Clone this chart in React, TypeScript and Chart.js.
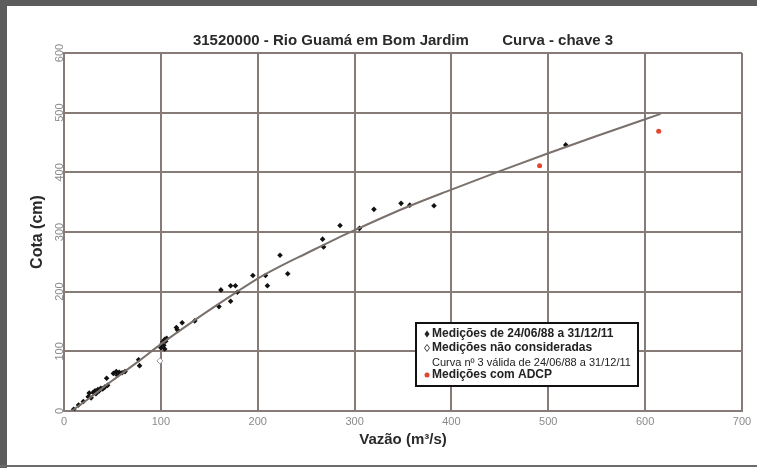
import React, { useEffect, useRef } from "react";
import { Chart, registerables } from "chart.js";

Chart.register(...registerables);

const chartTitle = "31520000 - Rio Guamá em Bom Jardim        Curva - chave 3";
const xAxisTitle = "Vazão (m³/s)";
const yAxisTitle = "Cota (cm)";
const xTickValues = [0, 100, 200, 300, 400, 500, 600, 700];
const yTickValues = [0, 100, 200, 300, 400, 500, 600];

const legendTexts = [
  "Medições de 24/06/88 a 31/12/11",
  "Medições não consideradas",
  "Curva nº 3 válida de 24/06/88 a 31/12/11",
  "Medições com ADCP",
];

// Medições de 24/06/88 a 31/12/11 (vazão, cota)
const medicoesQ = [10, 15, 20, 25, 26, 28, 30, 32, 33, 35, 36, 38, 40, 42, 44, 45, 51, 54, 55, 57, 60, 63, 77, 78,
  100, 101, 102, 103, 104, 105, 106, 104, 116, 117, 122, 135, 160, 162, 172, 177, 172, 179, 195, 208, 210, 223, 231,
  267, 268, 285, 305, 320, 348, 357, 382, 518];
const medicoesH = [3, 10, 16, 24, 30, 22, 31, 34, 29, 36, 33, 38, 37, 40, 55, 43, 63, 66, 60, 65, 64, 66, 86, 76,
  106, 112, 116, 110, 120, 117, 122, 104, 140, 136, 148, 151, 175, 203, 210, 210, 184, 199, 227, 227, 210, 261, 230,
  288, 275, 311, 306, 338, 348, 345, 344, 446];

// Medições não consideradas
const naoConsQ = [99];
const naoConsH = [84];

// Medições com ADCP
const adcpQ = [491, 614];
const adcpH = [411, 469];

// Curva nº 3
const curvaQ = [8, 25, 50, 75, 100, 125, 150, 175, 200, 225, 250, 275, 300, 350, 400, 450, 500, 550, 616];
const curvaH = [0, 20, 51, 81, 112, 141, 169, 196, 222, 244, 264, 284, 303, 339, 371, 402, 432, 461, 498];

const toXY = (xs: number[], ys: number[]) => xs.map((x, i) => ({ x, y: ys[i] }));

const GRID = "#867b77";

const framePlugin = {
  id: "frame",
  beforeDraw(chart: any) {
    const { ctx, width, height } = chart;
    ctx.save();
    ctx.fillStyle = "#ffffff";
    ctx.fillRect(0, 0, width, height);
    ctx.fillStyle = "#5c5c5c";
    ctx.fillRect(0, 0, width, 6);
    ctx.fillRect(0, 0, 7, height);
    ctx.fillStyle = "#6a6a6a";
    ctx.fillRect(0, height - 3, width, 2);
    ctx.restore();
  },
};

const legendPlugin = {
  id: "customLegend",
  afterDraw(chart: any) {
    const { ctx, chartArea } = chart;
    const bx = chartArea.left + 352;
    const by = chartArea.top + 270;
    const bw = 222;
    const bh = 63;
    ctx.save();
    ctx.fillStyle = "#ffffff";
    ctx.fillRect(bx, by, bw, bh);
    ctx.strokeStyle = "#111111";
    ctx.lineWidth = 2;
    ctx.strokeRect(bx, by, bw, bh);
    const tx = bx + 16;
    const mx = bx + 11;
    const rows = [by + 11, by + 25, by + 40, by + 52];
    ctx.textBaseline = "middle";
    ctx.textAlign = "left";
    ctx.fillStyle = "#222222";
    ctx.beginPath();
    ctx.moveTo(mx, rows[0] - 3.5);
    ctx.lineTo(mx + 2.5, rows[0]);
    ctx.lineTo(mx, rows[0] + 3.5);
    ctx.lineTo(mx - 2.5, rows[0]);
    ctx.closePath();
    ctx.fill();
    ctx.beginPath();
    ctx.moveTo(mx, rows[1] - 3.5);
    ctx.lineTo(mx + 2.5, rows[1]);
    ctx.lineTo(mx, rows[1] + 3.5);
    ctx.lineTo(mx - 2.5, rows[1]);
    ctx.closePath();
    ctx.strokeStyle = "#444444";
    ctx.lineWidth = 1;
    ctx.stroke();
    ctx.fillStyle = "#e2462c";
    ctx.beginPath();
    ctx.arc(mx, rows[3], 2.5, 0, Math.PI * 2);
    ctx.fill();

    ctx.fillStyle = "#222222";
    ctx.font = "bold 12px 'Liberation Sans', Arial, sans-serif";
    ctx.fillText(legendTexts[0], tx, rows[0]);
    ctx.fillText(legendTexts[1], tx, rows[1]);
    ctx.fillText(legendTexts[3], tx, rows[3]);
    ctx.font = "11px 'Liberation Sans', Arial, sans-serif";
    ctx.fillText(legendTexts[2], tx, rows[2]);
    ctx.restore();
  },
};

export default function App() {
  const canvasRef = useRef<HTMLCanvasElement | null>(null);

  useEffect(() => {
    if (!canvasRef.current) return;
    const chart = new Chart(canvasRef.current, {
      type: "scatter",
      data: {
        datasets: [
          {
            type: "line",
            label: legendTexts[2],
            data: toXY(curvaQ, curvaH),
            borderColor: "#7a706c",
            borderWidth: 2,
            pointRadius: 0,
            cubicInterpolationMode: "monotone",
            fill: false,
          } as any,
          {
            label: legendTexts[0],
            data: toXY(medicoesQ, medicoesH),
            pointStyle: "rectRot",
            pointRadius: 2.8,
            backgroundColor: "#111111",
            borderColor: "#111111",
            borderWidth: 0,
          },
          {
            label: legendTexts[1],
            data: toXY(naoConsQ, naoConsH),
            pointStyle: "rectRot",
            pointRadius: 3,
            backgroundColor: "#ffffff",
            borderColor: "#999999",
            borderWidth: 1,
          },
          {
            label: legendTexts[3],
            data: toXY(adcpQ, adcpH),
            pointStyle: "circle",
            pointRadius: 2.5,
            backgroundColor: "#e2462c",
            borderColor: "#e2462c",
            borderWidth: 0,
          },
        ],
      },
      options: {
        responsive: false,
        animation: false,
        layout: { padding: { left: 24, right: 15, top: 32, bottom: 12 } },
        plugins: {
          legend: { display: false },
          tooltip: { enabled: false },
          title: {
            display: true,
            text: chartTitle,
            fullSize: false,
            color: "#2a2a2a",
            font: { family: "'Liberation Sans', Arial, sans-serif", size: 15, weight: "bold", lineHeight: 1.2 },
            padding: { top: 0, bottom: 3 },
          },
        },
        scales: {
          x: {
            type: "linear",
            min: 0,
            max: 700,
            afterBuildTicks: (s: any) => {
              s.ticks = xTickValues.map((v) => ({ value: v }));
            },
            afterFit: (s: any) => {
              s.height = 45;
            },
            grid: { color: GRID, lineWidth: 2, drawTicks: false },
            border: { display: true, color: GRID, width: 2 },
            ticks: {
              color: "#8a8a8a",
              padding: 4,
              maxRotation: 0,
              font: { family: "'Liberation Sans', Arial, sans-serif", size: 11 },
            },
            title: {
              display: true,
              text: xAxisTitle,
              color: "#2a2a2a",
              font: { family: "'Liberation Sans', Arial, sans-serif", size: 15, weight: "bold", lineHeight: 1.2 },
              padding: { top: 0, bottom: 7 },
            },
          },
          y: {
            type: "linear",
            min: 0,
            max: 600,
            afterBuildTicks: (s: any) => {
              s.ticks = yTickValues.map((v) => ({ value: v }));
            },
            afterFit: (s: any) => {
              s.width = 40;
            },
            grid: { color: GRID, lineWidth: 2, drawTicks: false },
            border: { display: true, color: GRID, width: 2 },
            ticks: {
              color: "#8a8a8a",
              padding: -5,
              minRotation: 90,
              maxRotation: 90,
              crossAlign: "center",
              font: { family: "'Liberation Sans', Arial, sans-serif", size: 11 },
            },
            title: {
              display: true,
              text: yAxisTitle,
              color: "#2a2a2a",
              font: { family: "'Liberation Sans', Arial, sans-serif", size: 16, weight: "bold", lineHeight: 1.2 },
              padding: { top: 4, bottom: 0 },
            },
          },
        },
      } as any,
      plugins: [framePlugin, legendPlugin],
    });
    return () => chart.destroy();
  }, []);

  return (
    <div style={{ position: "fixed", left: 0, top: 0, width: 757, height: 468, background: "#fff" }}>
      <canvas ref={canvasRef} width={757} height={468} style={{ width: 757, height: 468, display: "block" }} />
    </div>
  );
}
